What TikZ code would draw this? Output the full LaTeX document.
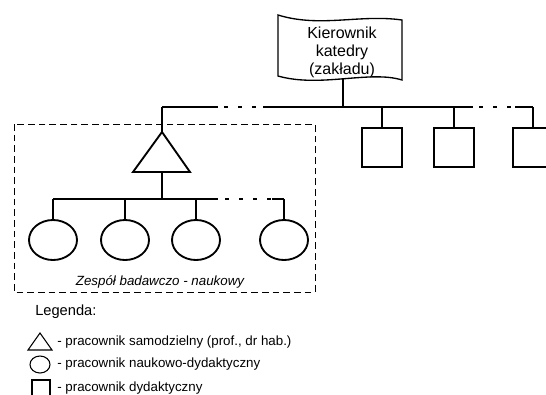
\documentclass[tikz,border=0pt]{standalone}
\usepackage{fontspec}
\setmainfont{Liberation Sans}
\usepackage{tikz}
\usetikzlibrary{shapes.geometric}

\begin{document}
\begin{tikzpicture}[x=0.75pt,y=-0.75pt,
  line/.style={line width=1.4pt},
  gapline/.style={line width=1.4pt,dash pattern=on 3pt off 7.5pt,dash phase=6pt},
  oval/.style={draw,line width=1.4pt,ellipse,minimum width=36pt,minimum height=30pt,inner sep=0pt},
  box/.style={draw,line width=1.4pt,rectangle,minimum width=30.5pt,minimum height=29.5pt,inner sep=0pt},
  legtext/.style={anchor=west,inner sep=0pt,font=\fontsize{10}{12}\selectfont}]
\useasboundingbox (0,0) rectangle (546,394);
\clip (0,0) rectangle (546,394);
\draw[line width=1pt] (278,15) .. controls (320,28) and (360,14) .. (402,20) -- (402,80)
  .. controls (370,70) and (320,88) .. (278,76) -- cycle;
\node[align=center,inner sep=0pt,font=\fontsize{12}{13.5}\selectfont] (kier) at (342,52) {Kierownik\\katedry\\(zakładu)};
\coordinate (flagb) at (343,79);
\coordinate (m0) at (162,107);
\coordinate (m1) at (218,107);
\coordinate (m2) at (263,107);
\coordinate (m3) at (473,107);
\coordinate (m4) at (515,107);
\coordinate (m5) at (533,107);
\draw[line] (m0) -- (m1);
\draw[gapline] (m1) -- (m2);
\draw[line] (m2) -- (m3);
\draw[gapline] (m3) -- (m4);
\draw[line] (m4) -- (m5);
\draw[line] (flagb) -- (flagb |- m0);
\node[box] (b1) at (382,147.5) {};
\node[box] (b2) at (454,147.5) {};
\node[box] (b3) at (533,147.5) {};
\draw[line] (b1.north) -- (b1.north |- m0);
\draw[line] (b2.north) -- (b2.north |- m0);
\draw[line] (b3.north) -- (m5);
\draw[dash pattern=on 5pt off 3pt,line width=0.6pt] (14,124) rectangle (315,292);
\coordinate (tritop) at (162,132);
\coordinate (tribase) at (162,172);
\draw[line,line join=miter] (tritop) -- (190,172) -- (133,172) -- cycle;
\draw[line] (m0) -- (tritop);
\coordinate (s0) at (53,199);
\coordinate (s1) at (218,199);
\coordinate (s2) at (272,199);
\coordinate (s3) at (284,199);
\draw[line] (tribase) -- (tribase |- s0);
\draw[line] (s0) -- (s1);
\draw[gapline,dash phase=5pt] (s1) -- (s2);
\draw[line] (s2) -- (s3);
\node[oval] (c1) at (53,240) {};
\node[oval] (c2) at (125,240) {};
\node[oval] (c3) at (196,240) {};
\node[oval] (c4) at (284,240) {};
\draw[line] (c1.north) -- (s0);
\draw[line] (c2.north) -- (c2.north |- s0);
\draw[line] (c3.north) -- (c3.north |- s0);
\draw[line] (c4.north) -- (s3);
\node[font=\fontsize{10}{12}\selectfont\itshape,inner sep=0pt] (zesp) at (160,282) {Zespół badawczo - naukowy};
\node[anchor=west,inner sep=0pt,font=\fontsize{11}{13}\selectfont] (leg) at (35,312) {Legenda:};
\draw[line width=0.8pt] (28,350) -- (52,350) -- (40,333) -- cycle;
\node[draw,line width=0.8pt,ellipse,minimum width=15pt,minimum height=12.75pt,inner sep=0pt] (lc) at (40,364.5) {};
\node[draw,line width=0.8pt,rectangle,minimum size=13.5pt,inner sep=0pt] (ls) at (41,389) {};
\node[legtext] (t1) at (57,342) {- pracownik samodzielny (prof., dr hab.)};
\node[legtext] (t2) at (57,364.5) {- pracownik naukowo-dydaktyczny};
\node[legtext] (t3) at (57,388) {- pracownik dydaktyczny};
\end{tikzpicture}
\end{document}
